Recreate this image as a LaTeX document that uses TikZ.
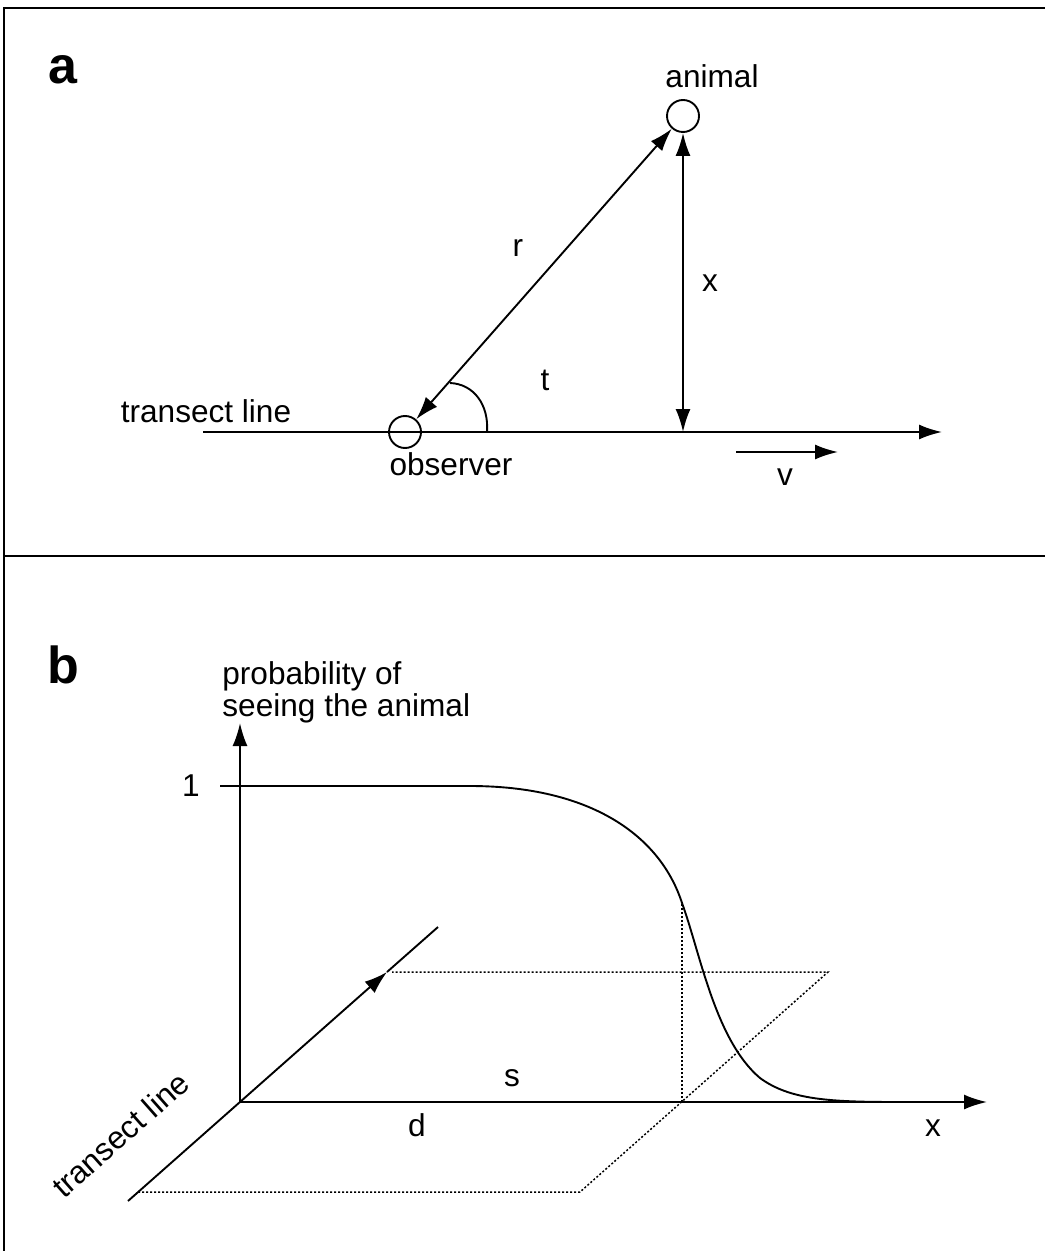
\documentclass[tikz,border=0pt]{standalone}
\usepackage{fontspec}
\setmainfont{Liberation Sans}
\usetikzlibrary{arrows.meta}
\begin{document}
\begin{tikzpicture}[x=0.5pt,y=-0.5pt,
  thin line/.style={line width=0.95pt},
  frame line/.style={line width=1.4pt},
  tip/.style={-{Latex[length=11.5pt,width=7.5pt]}},
  dtip/.style={{Latex[length=11.5pt,width=7.5pt]}-{Latex[length=11.5pt,width=7.5pt]}},
  dots/.style={line width=0.75pt, dash pattern=on 1pt off 1pt},
  lbl/.style={font=\fontsize{15.8}{16}\selectfont, inner sep=0pt},
  panel/.style={font=\fontsize{26}{30}\selectfont\bfseries, inner sep=0pt},
  ring/.style={circle, draw, thin line, minimum size=16pt, inner sep=0pt}]
\useasboundingbox (0,0) rectangle (1045,1251);
% frame
\coordinate (f1) at (4,1251);
\coordinate (f2) at (4,8);
\coordinate (f3) at (1045,8);
\coordinate (m1) at (4,556);
\coordinate (m2) at (1045,556);
\draw[frame line] (f1) -- (f2) -- (f3);
\draw[frame line] (m1) -- (m2);
% ---------- panel a ----------
\node[panel] (pa) at (63,70) {a};
\coordinate (ta) at (203,432);
\coordinate (tb) at (942,432);
\draw[thin line, tip] (ta) -- (tb);
\node[lbl, anchor=base] (tl) at (206,422) {transect line};
\node[ring] (obs) at (405,432) {};
\node[lbl, anchor=base] (obsl) at (451,475) {observer};
\node[ring] (ani) at (683,116) {};
\node[lbl, anchor=base] (anil) at (712,88) {animal};
\draw[thin line, dtip] (obs) -- (ani);
\coordinate (xf) at (683,432);
\draw[thin line, dtip] (ani) -- (xf);
\node[lbl] (rl) at (518,248) {r};
\node[lbl] (xl) at (710,283) {x};
\node[lbl] (tlb) at (545,380) {t};
\coordinate (arcA) at (450,383);
\coordinate (arcB) at (487,432);
\draw[thin line] (arcA) .. controls (474,384) and (489,405) .. (arcB);
\coordinate (va) at (736,452);
\coordinate (vb) at (838,452);
\draw[thin line, tip] (va) -- (vb);
\node[lbl] (vl) at (785,477) {v};
% ---------- panel b ----------
\node[panel] (pb) at (63,665) {b};
\node[lbl, anchor=north west, align=left] (pl) at (222,661) {probability of\\seeing the animal};
\coordinate (O) at (240,1102);
\coordinate (ytop) at (240,723);
\coordinate (xend) at (987,1102);
\draw[thin line, tip] (O) -- (ytop);
\draw[thin line, tip] (O) -- (xend);
\node[lbl] (one) at (191,786) {1};
\node[lbl] (xl2) at (933,1128) {x};
\node[lbl] (dl) at (417,1125) {d};
\node[lbl] (sl) at (512,1078) {s};
% transect line (3D)
\coordinate (tr1) at (128,1201);
\coordinate (trm) at (387,972);
\coordinate (tr2) at (438,927);
\draw[thin line, tip] (tr1) -- (trm);
\draw[thin line] (trm) -- (tr2);
\node[lbl, anchor=base, rotate=41.5] (trl) at (128,1143) {transect line};
% dotted parallelogram
\coordinate (p1) at (138,1192);
\coordinate (p2) at (580,1192);
\coordinate (p3) at (828,972);
\coordinate (p4) at (392,972);
\draw[dots] (p1) -- (p2) -- (p3) -- (p4);
\coordinate (vd1) at (682,1102);
\coordinate (vd2) at (682,903);
\draw[dots] (vd1) -- (vd2);
% curve
\coordinate (c0) at (220,786);
\coordinate (c1) at (470,786);
\draw[thin line] (c0) -- (c1) .. controls (590,786) and (660,835) .. (vd2)
  .. controls (700,952) and (715,1040) .. (760,1078)
  .. controls (790,1100) and (830,1102) .. (900,1102);
\end{tikzpicture}
\end{document}
